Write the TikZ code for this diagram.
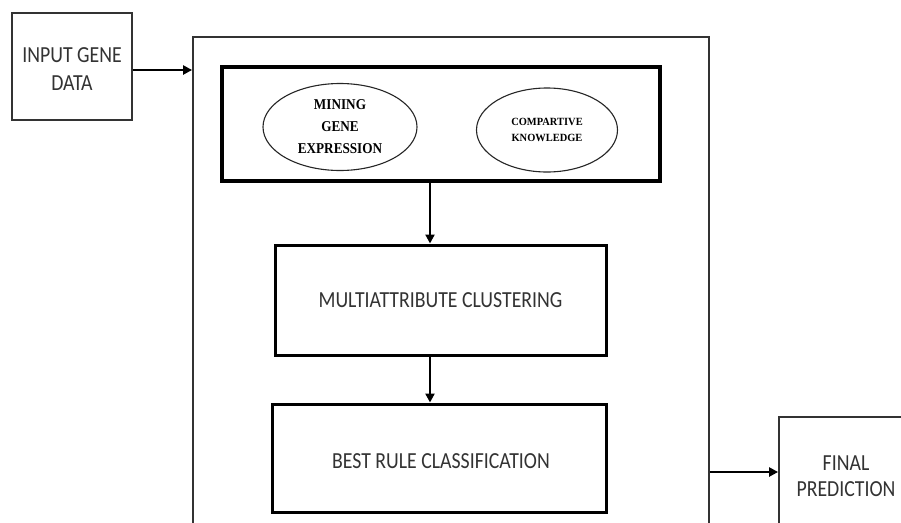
\documentclass[tikz,border=0pt]{standalone}
\usepackage{fontspec}
\setmainfont{Carlito}
\newfontfamily\boxfont[FakeStretch=0.86]{Carlito}
\newfontfamily\ellfont[FakeStretch=0.88]{Liberation Serif}
\newfontfamily\ellfontb[FakeStretch=0.95]{Liberation Serif}
\usetikzlibrary{shapes.geometric,arrows.meta}
\begin{document}
\begin{tikzpicture}[x=1pt,y=-1pt,
  thinbox/.style={draw=black!80, line width=1.8pt, rectangle, inner sep=0pt},
  thickbox/.style={draw=black, line width=3pt, rectangle, inner sep=0pt},
  ell/.style={draw=black!85, line width=1.1pt, ellipse, inner sep=0pt, align=center},
  lbl/.style={font=\boxfont\fontsize{23}{27}\selectfont, text=black!80, align=center},
  arr/.style={line width=2.6pt, -{Triangle[length=9pt,width=9pt]}}]
\useasboundingbox (0,0) rectangle (901,522);
\fill[white] (0,0) rectangle (901,522);
\clip (0,0) rectangle (901,522);
% input
\node[thinbox, minimum width=120pt, minimum height=107pt] (input) at (72,66.5) {};
\node[lbl, font=\boxfont\fontsize{23}{28}\selectfont] (inputtext) at (72,69) {INPUT GENE\\DATA};
% outer big box
\node[thinbox, minimum width=516pt, minimum height=523pt] (outer) at (451,298.5) {};
% top inner box
\node[thickbox, line width=3.5pt, minimum width=438pt, minimum height=114pt] (top) at (441,124) {};
\node[ell, minimum width=154pt, minimum height=87pt, font=\ellfont\bfseries\fontsize{15}{22}\selectfont] (mining) at (340,127) {MINING\\GENE\\EXPRESSION};
\node[ell, minimum width=141pt, minimum height=84pt, font=\ellfontb\bfseries\fontsize{11}{15.5}\selectfont] (comp) at (547,130) {COMPARTIVE\\KNOWLEDGE};
% middle
\node[thickbox, minimum width=331pt, minimum height=110pt] (mid) at (440.5,300) {};
\node[lbl] (midtext) at (440.5,300) {MULTIATTRIBUTE CLUSTERING};
% bottom
\node[thickbox, minimum width=334pt, minimum height=108pt] (bot) at (439,458) {};
\node[lbl] (bottext) at (441,461) {BEST RULE CLASSIFICATION};
% final
\node[thinbox, minimum width=151pt, minimum height=143pt] (final) at (854.5,488.5) {};
\node[lbl, font=\boxfont\fontsize{23}{26}\selectfont] (finaltext) at (846,476) {FINAL\\PREDICTION};
% connectors
\coordinate (a1) at (430,0);
\draw[arr] (input.east |- 0,70) -- (outer.west |- 0,70);
\draw[arr] (top.south -| a1) -- (mid.north -| a1);
\draw[arr] (mid.south -| a1) -- (bot.north -| a1);
\draw[arr] (outer.east |- 0,472) -- (final.west |- 0,472);
\end{tikzpicture}
\end{document}
